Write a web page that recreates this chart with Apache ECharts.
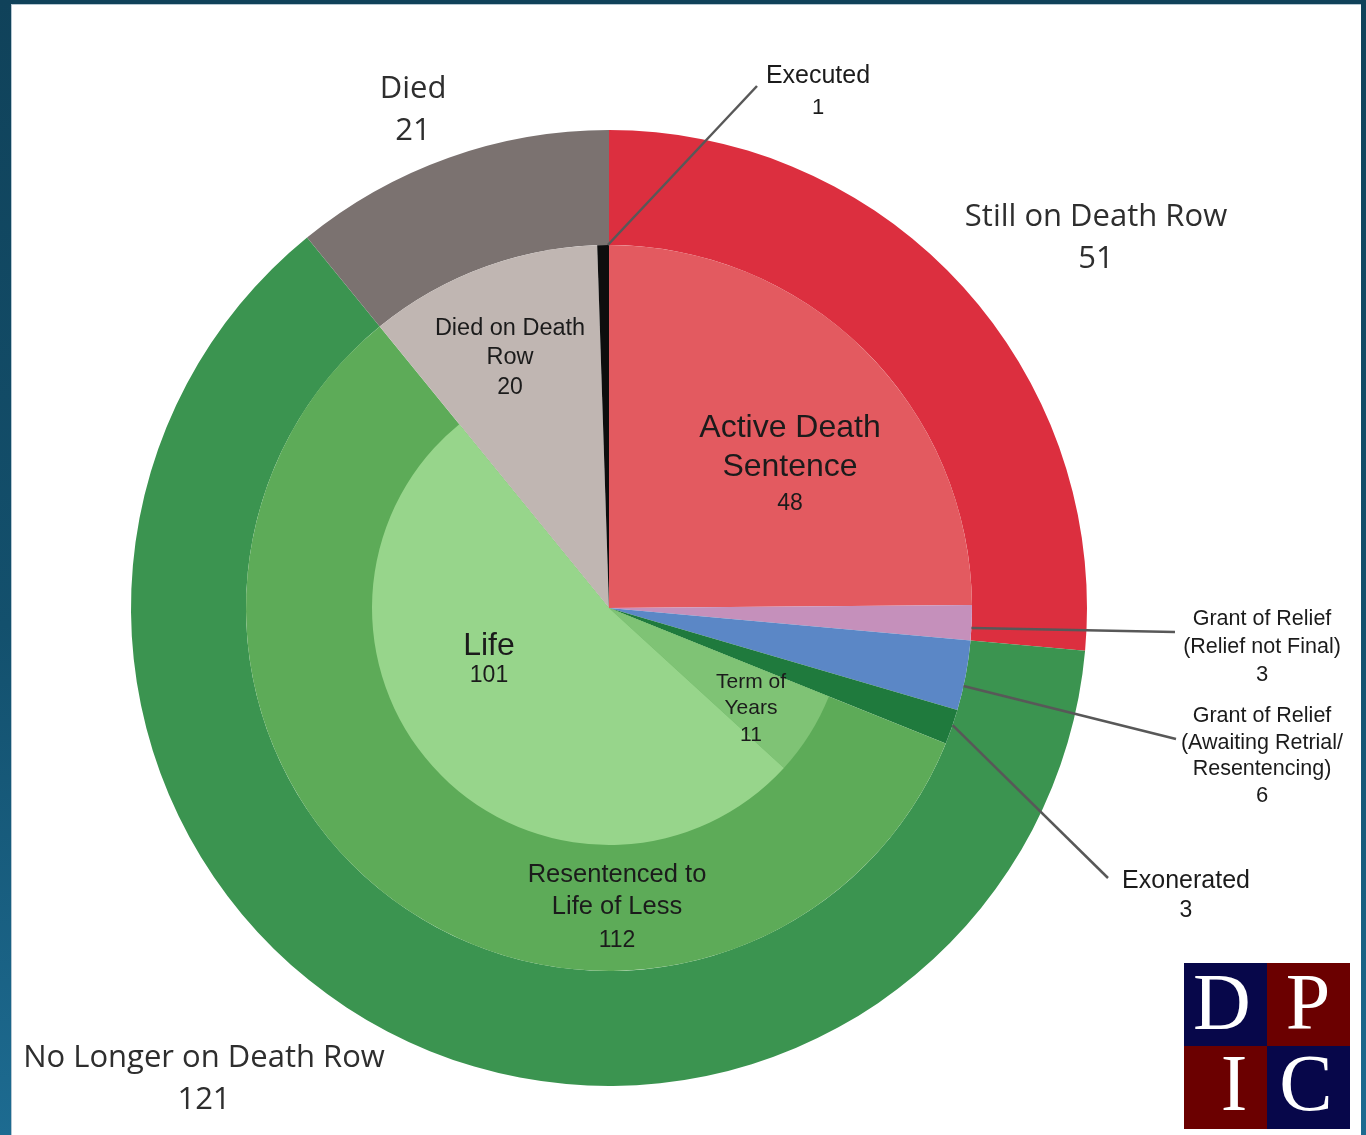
<!DOCTYPE html>
<html><head><meta charset="utf-8">
<script src="https://cdn.jsdelivr.net/npm/echarts@6/dist/echarts.min.js"></script>
<style>
html,body{margin:0;padding:0;width:1366px;height:1135px;overflow:hidden;}
body{background:linear-gradient(180deg,#10425a 0%,#13506d 55%,#1d6b91 100%);position:relative;}
#panel{position:absolute;left:11px;top:4px;width:1350px;height:1131px;background:#fff;border-top:1px solid #b5c7d2;border-left:1px solid #b5c7d2;box-sizing:border-box;}
#chart{position:absolute;left:0;top:0;width:1366px;height:1135px;}
</style></head><body><div id="panel"></div><div id="chart"></div>
<script>
// ---------- DATA ----------
const outerNames = ['Still on Death Row', 'No Longer on Death Row', 'Died'];
const outerValues = [51, 121, 21];

const middleNames = ['Active Death Sentence', 'Grant of Relief (Relief not Final)',
  'Grant of Relief (Awaiting Retrial/ Resentencing)', 'Exonerated',
  'Resentenced to Life of Less', 'Died on Death Row', 'Executed'];
const middleValues = [48, 3, 6, 3, 112, 20, 1];
const middleLabelLines = [['Active Death', 'Sentence'], ['Grant of Relief', '(Relief not Final)'],
  ['Grant of Relief', '(Awaiting Retrial/', 'Resentencing)'], ['Exonerated'],
  ['Resentenced to', 'Life of Less'], ['Died on Death', 'Row'], ['Executed']];

const innerNames = ['Term of Years', 'Life'];
const innerValues = [11, 101];
const innerLabelLines = [['Term of', 'Years'], ['Life']];
// inner ring sits inside "Resentenced to Life of Less" (middle index 4)
const innerParentIndex = 4;

// ---------- STYLE / LAYOUT ----------
const CX = 609, CY = 608;
const R_OUT = [363, 478], R_MID = [0, 363], R_IN = [0, 237];
const outerColors = ['#dc2f3f', '#3b9450', '#7b7270'];
const middleColors = ['#e35a60', '#c590bb', '#5b87c6', '#1f7a3d', '#5dab58', '#c0b6b2', '#0d0d0d'];
const innerColors = ['#7fc375', '#97d58b'];

const SANS = '"Liberation Sans", Arial, Helvetica, sans-serif';
const OUTER_FONT = '"Open Sans", sans-serif';

// label centre positions [x, y] per series / data index
const labelPos = {
  0: [[1096, 238], [204, 1079], [413, 110]],
  1: [[790, 465], [1262, 647], [1262, 756], [1186, 896], [617, 909], [510, 358], [818, 92]],
  2: [null, [751, 709], [489, 660], null]
};
// rich styles per middle/inner item: [nameSize, nameLH, valSize, valLH]
const middleFonts = [[32, 39, 23, 34], [21.5, 27.5, 22, 28], [21.5, 26.3, 22, 26.3], [25, 29, 23, 29],
  [25.5, 32, 23, 36], [23.5, 29.5, 23, 29.5], [25, 31, 22, 31]];
const innerFonts = [[21, 26, 21, 27], [32, 32, 23, 28]];

// leader lines: middle index -> [fraction within slice, end point]
const leaders = {1: [0.65, [1175, 632]], 2: [0.65, [1176, 739]], 3: [0.45, [1108, 878]], 6: [0.9, [757, 86]]};

// ---------- BUILD ----------
const sum = a => a.reduce((s, v) => s + v, 0);
const total = sum(middleValues);

function richFor(f) {
  return {
    n: {fontFamily: SANS, fontSize: f[0], lineHeight: f[1], color: '#1b1b1b', align: 'center'},
    v: {fontFamily: SANS, fontSize: f[2], lineHeight: f[3], color: '#1b1b1b', align: 'center'}
  };
}
function fmt(lines, value) {
  return lines.map(l => '{n|' + l + '}').join('\n') + '\n{v|' + value + '}';
}

const outerData = outerNames.map((n, i) => ({
  name: n, value: outerValues[i], itemStyle: {color: outerColors[i]},
  label: {
    formatter: '{o|' + n + '}\n{o|' + outerValues[i] + '}',
    rich: {o: {fontFamily: OUTER_FONT, fontSize: 31, lineHeight: 42, color: '#2e2e2e', align: 'center'}}
  }
}));

const middleData = middleNames.map((n, i) => ({
  name: n, value: middleValues[i], itemStyle: {color: middleColors[i]},
  label: {formatter: fmt(middleLabelLines[i], middleValues[i]), rich: richFor(middleFonts[i])}
}));

const before = sum(middleValues.slice(0, innerParentIndex));
const after = sum(middleValues.slice(innerParentIndex + 1));
const innerData = [{name: '', value: before, itemStyle: {color: 'rgba(0,0,0,0)'}, label: {show: false}}]
  .concat(innerNames.map((n, i) => ({
    name: n, value: innerValues[i], itemStyle: {color: innerColors[i]},
    label: {formatter: fmt(innerLabelLines[i], innerValues[i]), rich: richFor(innerFonts[i])}
  })))
  .concat([{name: ' ', value: after, itemStyle: {color: 'rgba(0,0,0,0)'}, label: {show: false}}]);

function pieSeries(radius, data) {
  return {
    type: 'pie', center: [CX, CY], radius: radius, startAngle: 90, clockwise: true,
    silent: true, avoidLabelOverlap: false, animation: false,
    itemStyle: {borderWidth: 0},
    label: {show: true, position: 'inside'},
    labelLine: {show: false},
    emphasis: {disabled: true},
    labelLayout: function (p) {
      const arr = labelPos[p.seriesIndex];
      const pos = arr && arr[p.dataIndex];
      if (!pos) return;
      return {x: pos[0], y: pos[1], align: 'center', verticalAlign: 'middle'};
    },
    data: data
  };
}

// leader lines computed from the data angles
const graphics = [];
Object.keys(leaders).forEach(k => {
  const i = +k;
  const frac = leaders[k][0], end = leaders[k][1];
  const cum = sum(middleValues.slice(0, i)) + frac * middleValues[i];
  const th = cum / total * Math.PI * 2;
  const start = [CX + R_MID[1] * Math.sin(th), CY - R_MID[1] * Math.cos(th)];
  graphics.push({type: 'polyline', z: 100, shape: {points: [start, end]},
    style: {stroke: '#585858', lineWidth: 2.5, fill: null}});
});

// DPIC logo
const logo = [
  {x: 1184, y: 963, c: '#07074a', t: 'D', tx: 1222, ty: 1008},
  {x: 1267, y: 963, c: '#6b0000', t: 'P', tx: 1308, ty: 1008},
  {x: 1184, y: 1046, c: '#6b0000', t: 'I', tx: 1234, ty: 1089},
  {x: 1267, y: 1046, c: '#07074a', t: 'C', tx: 1306, ty: 1089}
];
logo.forEach(l => {
  graphics.push({type: 'rect', z: 100, shape: {x: l.x, y: l.y, width: 83, height: 83}, style: {fill: l.c}});
  graphics.push({type: 'text', z: 101, style: {text: l.t, x: l.tx, y: l.ty, fill: '#ffffff',
    font: '80px "Liberation Serif", "Times New Roman", serif',
    align: 'center', verticalAlign: 'middle', textAlign: 'center', textVerticalAlign: 'middle'}});
});

const chart = echarts.init(document.getElementById('chart'), null, {renderer: 'canvas'});
chart.setOption({
  animation: false,
  backgroundColor: 'transparent',
  series: [pieSeries(R_OUT, outerData), pieSeries(R_MID, middleData), pieSeries(R_IN, innerData)],
  graphic: graphics
});
</script></body></html>
